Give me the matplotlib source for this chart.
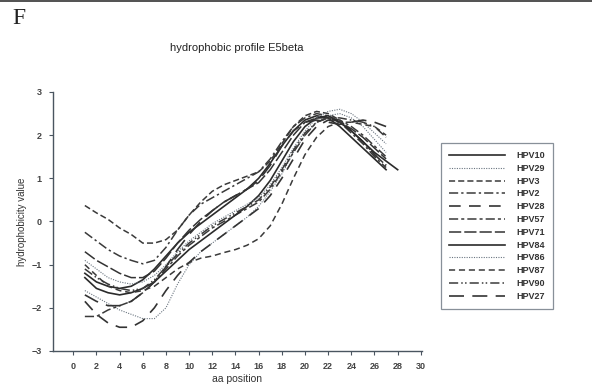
import numpy as np
import matplotlib
matplotlib.use("Agg")
import matplotlib.pyplot as plt
from matplotlib.patches import Rectangle

plt.rcParams["font.family"] = ["Liberation Sans", "DejaVu Sans"]

# aa positions and hydrophobicity values
positions = list(range(1, 29))

hpv10 = [-1.2, -1.4, -1.5, -1.55, -1.5, -1.35, -1.1, -0.8, -0.5, -0.25, -0.05, 0.15, 0.35, 0.55,
         0.75, 1.0, 1.35, 1.75, 2.1, 2.35, 2.45, 2.4, 2.2, 1.95, 1.7, 1.45, 1.2]
hpv29 = [-1.6, -1.75, -1.9, -2.05, -2.15, -2.25, -2.25, -2.0, -1.45, -1.0, -0.7, -0.5, -0.3, -0.1,
         0.1, 0.35, 0.7, 1.1, 1.6, 2.0, 2.3, 2.45, 2.5, 2.4, 2.2, 1.9, 1.6]
hpv3 = [0.37, 0.2, 0.05, -0.15, -0.3, -0.5, -0.5, -0.42, -0.2, 0.15, 0.45, 0.7, 0.85, 0.95,
        1.05, 1.15, 1.4, 1.8, 2.2, 2.45, 2.55, 2.5, 2.35, 2.1, 1.85, 1.55, 1.3]
hpv2 = [-0.25, -0.45, -0.65, -0.8, -0.9, -0.98, -0.9, -0.6, -0.2, 0.15, 0.4, 0.55, 0.7, 0.85,
        1.0, 1.15, 1.45, 1.85, 2.2, 2.4, 2.5, 2.45, 2.3, 2.05, 1.8, 1.5, 1.25]
hpv28 = [-1.85, -2.15, -2.35, -2.45, -2.45, -2.3, -2.0, -1.6, -1.25, -0.95, -0.7, -0.5, -0.3, -0.1,
         0.1, 0.3, 0.6, 1.0, 1.45, 1.9, 2.2, 2.35, 2.3, 2.1, 1.85, 1.55, 1.3]
hpv57 = [-2.2, -2.2, -2.05, -1.95, -1.85, -1.65, -1.4, -1.1, -0.8, -0.55, -0.35, -0.15, 0.0, 0.15,
         0.3, 0.45, 0.75, 1.15, 1.6, 2.0, 2.3, 2.4, 2.35, 2.2, 2.0, 1.75, 1.5]
hpv71 = [-0.7, -0.9, -1.05, -1.2, -1.3, -1.3, -1.15, -0.85, -0.5, -0.2, 0.05, 0.25, 0.45, 0.6,
         0.75, 0.9, 1.2, 1.6, 2.0, 2.3, 2.4, 2.4, 2.3, 2.15, 1.95, 1.7, 1.45]
hpv84 = [-1.3, -1.55, -1.65, -1.7, -1.65, -1.55, -1.4, -1.15, -0.9, -0.65, -0.45, -0.25, -0.05, 0.15,
         0.35, 0.6, 0.95, 1.4, 1.85, 2.2, 2.4, 2.45, 2.3, 2.1, 1.85, 1.6, 1.4, 1.2]
hpv86 = [-0.9, -1.1, -1.3, -1.4, -1.45, -1.4, -1.25, -1.0, -0.7, -0.45, -0.25, -0.05, 0.1, 0.25,
         0.4, 0.55, 0.85, 1.25, 1.7, 2.1, 2.4, 2.55, 2.6, 2.5, 2.3, 2.05, 1.8]
hpv87 = [-1.0, -1.25, -1.5, -1.6, -1.65, -1.6, -1.5, -1.3, -1.1, -0.95, -0.85, -0.8, -0.72, -0.65,
         -0.55, -0.4, -0.1, 0.4, 1.0, 1.55, 1.95, 2.2, 2.3, 2.3, 2.25, 2.2, 2.0]
hpv90 = [-1.1, -1.3, -1.45, -1.55, -1.6, -1.55, -1.35, -1.05, -0.75, -0.5, -0.3, -0.1, 0.05, 0.2,
         0.35, 0.5, 0.8, 1.2, 1.65, 2.05, 2.3, 2.4, 2.4, 2.35, 2.3, 2.2, 1.95]
hpv27 = [-1.7, -1.85, -1.95, -1.95, -1.85, -1.65, -1.4, -1.05, -0.65, -0.3, 0.0, 0.25, 0.45, 0.6,
         0.75, 0.95, 1.3, 1.75, 2.1, 2.3, 2.35, 2.3, 2.25, 2.3, 2.35, 2.3, 2.2]

names = ["HPV10", "HPV29", "HPV3", "HPV2", "HPV28", "HPV57",
         "HPV71", "HPV84", "HPV86", "HPV87", "HPV90", "HPV27"]
series = [hpv10, hpv29, hpv3, hpv2, hpv28, hpv57,
          hpv71, hpv84, hpv86, hpv87, hpv90, hpv27]

estilos = [
    ("-", 1.2, "#2b2b2b"),
    ((0, (1, 1.2)), 0.8, "#6a7580"),
    ((0, (4, 2)), 1.1, "#3a3a3a"),
    ((0, (6, 2, 1.5, 2)), 1.1, "#3a3a3a"),
    ((0, (7, 5)), 1.2, "#333333"),
    ((0, (6, 2, 2, 2)), 1.1, "#3a3a3a"),
    ((0, (8, 2)), 1.1, "#333333"),
    ("-", 1.2, "#2b2b2b"),
    ((0, (1, 1.2)), 0.8, "#6a7580"),
    ((0, (4, 2.5)), 1.1, "#3a3a3a"),
    ((0, (6, 2, 1, 1.5, 1, 2)), 1.1, "#3a3a3a"),
    ((0, (9, 5)), 1.2, "#333333"),
]

fig = plt.figure(figsize=(5.92, 3.87), dpi=100)
ax = fig.add_axes([53 / 592, 1 - 351 / 387, 369 / 592, 259 / 387])

for nombre, valores, (ls, lw, col) in zip(names, series, estilos):
    ax.plot(positions[:len(valores)], valores, linestyle=ls, linewidth=lw, color=col, label=nombre)

ax.set_xlim(-1.75, 30.1)
ax.set_ylim(-3, 3)
ax.set_xticks(np.arange(0, 31, 2))
ax.set_yticks([-3, -2, -1, 0, 1, 2, 3])
for lado in ["top", "right"]:
    ax.spines[lado].set_visible(False)
for lado in ["left", "bottom"]:
    ax.spines[lado].set_color("#4a5560")
    ax.spines[lado].set_linewidth(1.0)
ax.tick_params(direction="out", length=3, width=0.8, colors="#4a5560", labelsize=6.5, pad=5)
for t in ax.get_xticklabels() + ax.get_yticklabels():
    t.set_color("#444444")
    t.set_fontweight("bold")

fig.text(0.40, 0.02, "aa position", ha="center", va="center", fontsize=7.5, color="#333333")
fig.text(22 / 592, 1 - 222 / 387, "hydrophobicity value", rotation=90, ha="center", va="center",
         fontsize=7, color="#333333")
fig.text(237 / 592, 1 - 48 / 387, "hydrophobic profile E5beta", ha="center", va="center",
         fontsize=8, color="#222222")
fig.text(12 / 592, 1 - 18 / 387, "F", ha="left", va="center", fontsize=17,
         family="Liberation Serif", color="#222222")

# borde oscuro arriba
fig.patches.append(Rectangle((0, 1 - 2 / 387), 1, 2 / 387, transform=fig.transFigure,
                             facecolor="#555555", edgecolor="none"))

leg = fig.legend(loc="upper left", bbox_to_anchor=(441 / 592, 1 - 143 / 387),
                 fontsize=6.5, labelspacing=0.42, handlelength=6.2, handletextpad=1.2,
                 borderpad=0.9, fancybox=False, frameon=True, borderaxespad=0)
leg.get_frame().set_edgecolor("#6a7580")
leg.get_frame().set_linewidth(0.9)
for t in leg.get_texts():
    t.set_color("#333333")
    t.set_fontweight("bold")

fig.savefig("out.png", dpi=100)
